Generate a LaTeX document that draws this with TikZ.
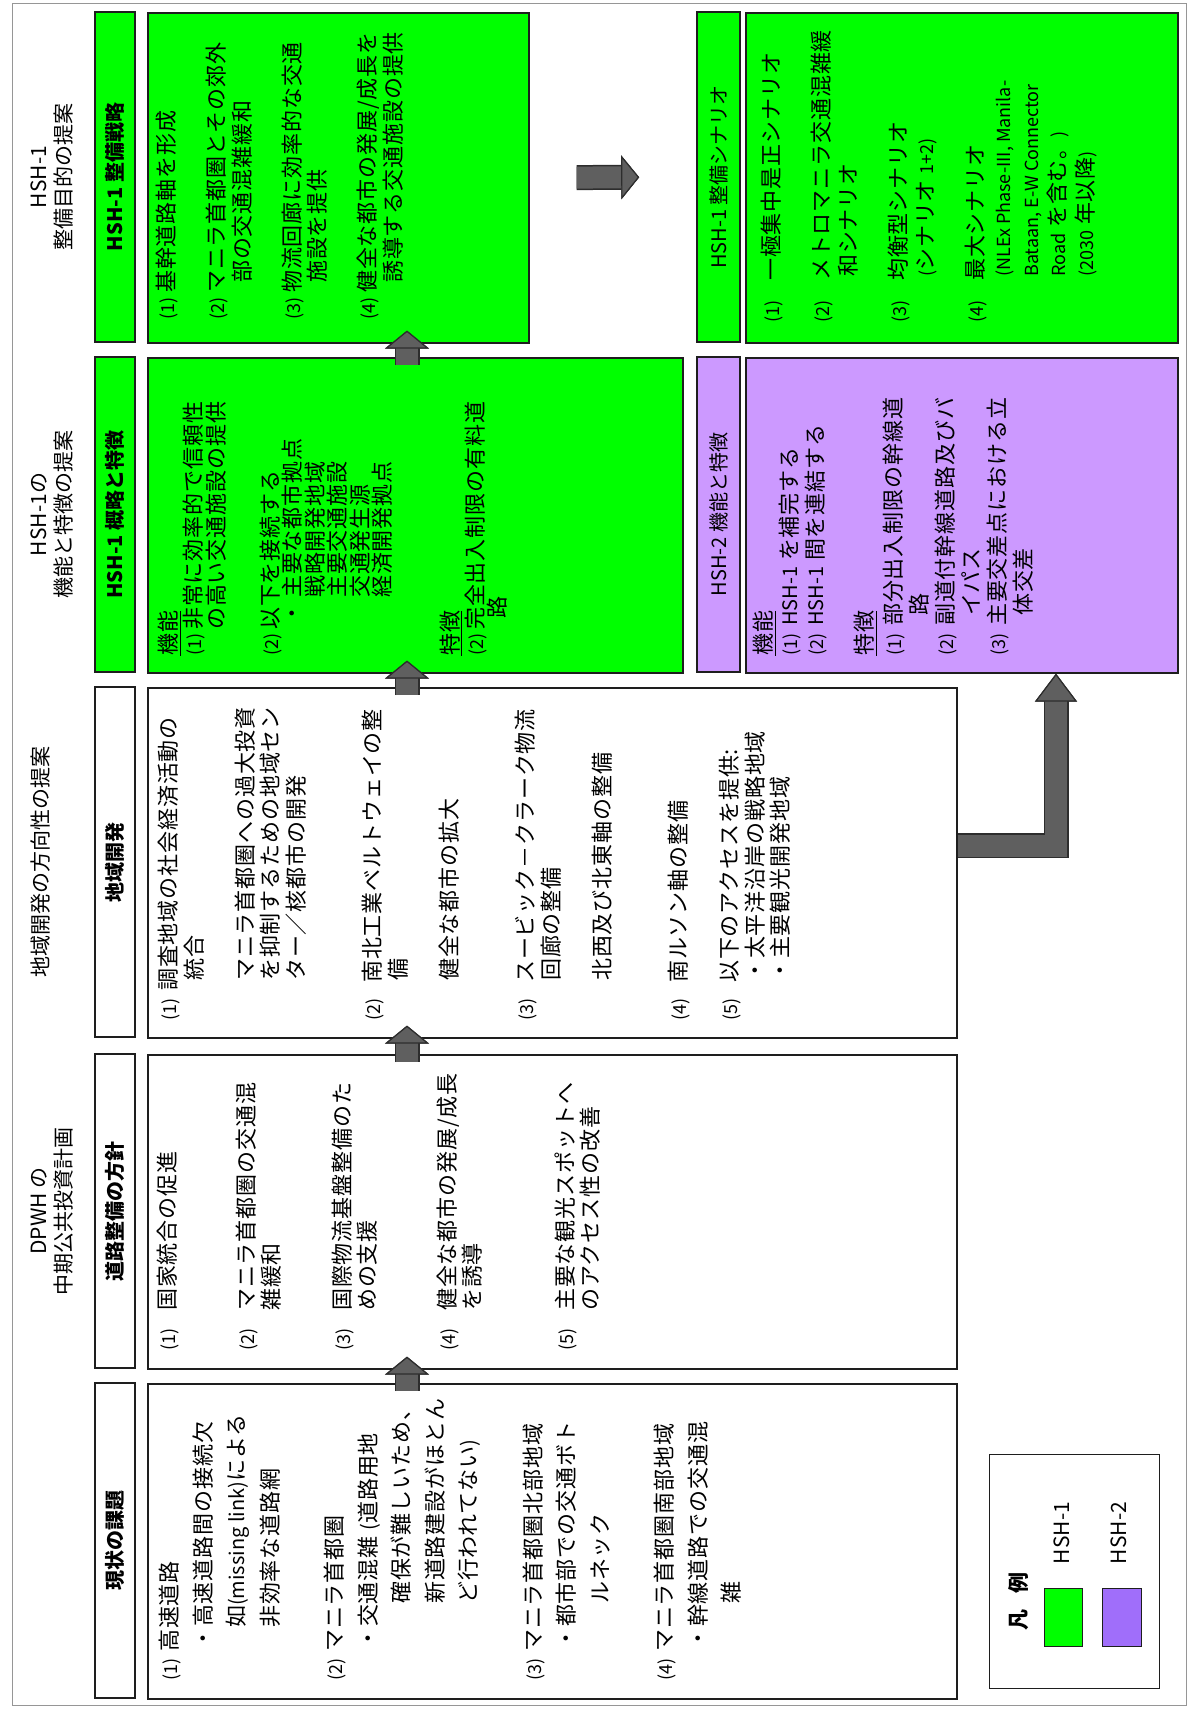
\documentclass[tikz,border=0pt]{standalone}
\usepackage{fontspec}
\setmainfont{Noto Sans CJK JP}
\usetikzlibrary{positioning,calc,arrows.meta}
\definecolor{hshgreen}{RGB}{0,255,0}
\definecolor{hshpurple}{RGB}{204,153,255}
\definecolor{legpurple}{RGB}{160,110,250}
\definecolor{arrgray}{RGB}{95,95,95}
\definecolor{arrdark}{RGB}{45,45,45}
\definecolor{boxline}{RGB}{30,30,30}
\definecolor{framegray}{RGB}{150,150,150}
\newcommand{\sm}[1]{{\fontsize{20}{20}\selectfont\addfontfeatures{LetterSpace=0}#1}}
\newcommand{\lat}[1]{{\fontsize{18}{18}\selectfont\addfontfeatures{LetterSpace=0}#1}}
\newcommand{\lab}[2]{\makebox[#1][l]{\fontsize{18}{18}\selectfont\addfontfeatures{LetterSpace=0}#2}}

\begin{document}
\begin{tikzpicture}[x=1pt,y=-1pt,
	cbox/.style={draw=boxline,line width=1.6pt,anchor=north west,inner sep=0pt},
	hdr/.style={draw=boxline,line width=1.6pt,rotate=90,inner sep=0pt,font=\fontsize{20}{24}\selectfont\bfseries},
	txt/.style={rotate=90,anchor=north west,inner sep=0pt,align=left},
	ttl/.style={rotate=90,anchor=north,inner sep=0pt,align=center,font=\fontsize{21}{25}\selectfont},
	blko/.style={draw=arrdark,line width=25pt,line join=miter,-{Triangle[width=44pt,length=18pt,line width=1.2pt]}},
	blk/.style={draw=arrgray,line width=22pt,line join=miter,-{Triangle[width=44pt,length=18pt,line width=1.2pt,fill=arrgray,color=arrdark]}},
	upgap/.style={shorten <=-8pt,shorten >=-13pt}]
	\useasboundingbox (0,0) rectangle (1189,1711);
	\draw[framegray,line width=1pt] (12,3) rectangle (1186,1705);
	\coordinate (tx) at (31,0);
	\coordinate (ax) at (407,0);
	\coordinate (ex) at (1056,0);

	% header boxes
	\node[hdr,fill=hshgreen,minimum width=330,minimum height=40] (h1) at (115,177) {HSH-1 整備戦略};
	\node[hdr,fill=hshgreen,minimum width=315,minimum height=40] (h2) at (115,514.5) {HSH-1 概略と特徴};
	\node[hdr,fill=white,minimum width=350,minimum height=40] (h3) at (115,862) {地域開発};
	\node[hdr,fill=white,minimum width=314,minimum height=40] (h4) at (115,1211) {道路整備の方針};
	\node[hdr,fill=white,minimum width=315,minimum height=40] (h5) at (115,1540.5) {現状の課題};
	\node[hdr,fill=hshgreen,minimum width=330,minimum height=43,font=\fontsize{20}{24}\selectfont] (h6) at (718.5,177) {HSH-1 整備シナリオ};
	\node[hdr,fill=hshpurple,minimum width=315,minimum height=43,font=\fontsize{20}{24}\selectfont] (h7) at (718.5,514.5) {HSH-2 機能と特徴};

	% titles
	\node[ttl] (t1) at (h1 -| tx) {HSH-1\\整備目的の提案};
	\node[ttl] (t2) at (h2 -| tx) {HSH-1の\\機能と特徴の提案};
	\node[ttl] (t3) at (h3 -| tx) {地域開発の方向性の提案};
	\node[ttl] (t4) at (h4 -| tx) {DPWH の\\中期公共投資計画};

	% content boxes
	\node[cbox,fill=hshgreen,minimum width=381,minimum height=330] (c1) at (147,12) {};
	\node[cbox,fill=hshgreen,minimum width=535,minimum height=315] (c2) at (147,357) {};
	\node[cbox,fill=white,minimum width=809,minimum height=350] (c3) at (147,687) {};
	\node[cbox,fill=white,minimum width=809,minimum height=314] (c4) at (147,1054) {};
	\node[cbox,fill=white,minimum width=809,minimum height=315] (c5) at (147,1383) {};
	\node[cbox,fill=hshgreen,minimum width=432,minimum height=330] (c6) at (745,12) {};
	\node[cbox,fill=hshpurple,minimum width=432,minimum height=315] (c7) at (745,357) {};

	% texts
	\node[txt,font=\fontsize{22}{25.5}\selectfont\addfontfeatures{LetterSpace=4}] (s1) at (156,320) {%
		\lab{27pt}{(1)}基幹道路軸を形成\\[24.5pt]
		\lab{27pt}{(2)}マニラ首都圏とその郊外\\
		\hspace*{37pt}部の交通混雑緩和\\[24.5pt]
		\lab{27pt}{(3)}物流回廊に効率的な交通\\
		\hspace*{37pt}施設を提供\\[24.5pt]
		\lab{27pt}{(4)}健全な都市の発展/成長を\\
		\hspace*{37pt}誘導する交通施設の提供};
	\node[txt,font=\fontsize{22}{22.5}\selectfont\addfontfeatures{LetterSpace=4}] (s2) at (158,656) {%
		\underline{機能}\\[2.5pt]
		\lab{26pt}{(1)}非常に効率的で信頼性\\
		\hspace*{26pt}の高い交通施設の提供\\[31.5pt]
		\lab{26pt}{(2)}以下を接続する\\
		\hspace*{31pt}・\hspace{5pt}主要な都市拠点\\
		\hspace*{58pt}戦略開発地域\\
		\hspace*{58pt}主要交通施設\\
		\hspace*{58pt}交通発生源\\
		\hspace*{58pt}経済開発拠点\\[45pt]
		\underline{特徴}\\[2.5pt]
		\lab{26pt}{(2)}完全出入制限の有料道\\
		\hspace*{37pt}路};
	\node[txt,font=\fontsize{22}{25.5}\selectfont\addfontfeatures{LetterSpace=4}] (s3) at (158,1021) {%
		\lab{30pt}{(1)}調査地域の社会経済活動の\\
		\hspace*{40pt}統合\\[25.5pt]
		\hspace*{40pt}マニラ首都圏への過大投資\\
		\hspace*{40pt}を抑制するための地域セン\\
		\hspace*{40pt}ター／核都市の開発\\[51pt]
		\lab{38pt}{(2)}南北工業ベルトウェイの整\\
		\hspace*{40pt}備\\[25.5pt]
		\hspace*{40pt}健全な都市の拡大\\[51pt]
		\lab{38pt}{(3)}スービック－クラーク物流\\
		\hspace*{40pt}回廊の整備\\[25.5pt]
		\hspace*{40pt}北西及び北東軸の整備\\[51pt]
		\lab{38pt}{(4)}南ルソン軸の整備\\[25.5pt]
		\lab{38pt}{(5)}以下のアクセスを提供:\\
		\hspace*{39pt}・太平洋沿岸の戦略地域\\
		\hspace*{39pt}・主要観光開発地域};
	\node[txt,font=\fontsize{22}{25}\selectfont\addfontfeatures{LetterSpace=4}] (s4) at (157,1351) {%
		\lab{40pt}{(1)}国家統合の促進\\[54pt]
		\lab{40pt}{(2)}マニラ首都圏の交通混\\
		\hspace*{40pt}雑緩和\\[46pt]
		\lab{40pt}{(3)}国際物流基盤整備のた\\
		\hspace*{40pt}めの支援\\[55pt]
		\lab{40pt}{(4)}健全な都市の発展/成長\\
		\hspace*{40pt}を誘導\\[68pt]
		\lab{40pt}{(5)}主要な観光スポットへ\\
		\hspace*{40pt}のアクセス性の改善};
	\node[txt,font=\fontsize{22}{33.5}\selectfont\addfontfeatures{LetterSpace=4}] (s5) at (159,1681) {%
		\lab{29pt}{(1)}高速道路\\
		\hspace*{31pt}・高速道路間の接続欠\\
		\hspace*{53pt}如\sm{(missing link)}による\\
		\hspace*{53pt}非効率な道路網\\[31pt]
		\lab{29pt}{(2)}マニラ首都圏\\
		\hspace*{31pt}・交通混雑 \sm{(}道路用地\\
		\hspace*{77pt}確保が難しいため、\\
		\hspace*{77pt}新道路建設がほとん\\
		\hspace*{77pt}ど行われてない\sm{)}\\[31pt]
		\lab{29pt}{(3)}マニラ首都圏北部地域\\
		\hspace*{31pt}・都市部での交通ボト\\
		\hspace*{77pt}ルネック\\[31pt]
		\lab{29pt}{(4)}マニラ首都圏南部地域\\
		\hspace*{31pt}・幹線道路での交通混\\
		\hspace*{77pt}雑};
	\node[txt,font=\fontsize{22}{27.5}\selectfont\addfontfeatures{LetterSpace=4}] (s6) at (761,323) {%
		\lab{42pt}{(1)}一極集中是正シナリオ\\[22pt]
		\lab{42pt}{(2)}メトロマニラ交通混雑緩\\
		\hspace*{46pt}和シナリオ\\[22pt]
		\lab{42pt}{(3)}均衡型シナリオ\\
		\hspace*{46pt}\lat{(}シナリオ \lat{1+2)}\\[22pt]
		\lab{42pt}{(4)}最大シナリオ\\
		\hspace*{46pt}\lat{(NLEx Phase-III, Manila-}\\
		\hspace*{46pt}\lat{Bataan, E-W Connector}\\
		\hspace*{46pt}\lat{Road} を含む。\lat{)}\\
		\hspace*{46pt}\lat{(2030} 年以降\lat{)}};
	\node[txt,font=\fontsize{22}{26}\selectfont\addfontfeatures{LetterSpace=4}] (s7) at (753,656) {%
		\underline{機能}\\
		\lab{30pt}{(1)}\sm{HSH-1} を補完する\\
		\lab{30pt}{(2)}\sm{HSH-1} 間を連結する\\[23pt]
		\underline{特徴}\\[3pt]
		\lab{30pt}{(1)}部分出入制限の幹線道\\
		\hspace*{40pt}路\\
		\lab{30pt}{(2)}副道付幹線道路及びバ\\
		\hspace*{40pt}イパス\\
		\lab{30pt}{(3)}主要交差点における立\\
		\hspace*{40pt}体交差};

	% arrows
	\foreach \a/\b in {c5/c4,c4/c3,c3/c2,c2/c1} {
		\draw[blko,upgap] (\a.north -| ax) -- (\b.south -| ax);
		\draw[blk,upgap] (\a.north -| ax) -- (\b.south -| ax);
	}
	\draw[blko,shorten <=47pt,shorten >=57pt] (c1.east) -- (h6.north);
	\draw[blk,shorten <=47pt,shorten >=57pt] (c1.east) -- (h6.north);
	\draw[draw=arrdark,line width=25pt,line join=miter,-{Triangle[width=42pt,length=28pt,line width=1.2pt]}] ([yshift=17pt]c3.east) -| (c7.south -| ex);
	\draw[draw=arrgray,line width=22pt,line join=miter,-{Triangle[width=42pt,length=28pt,line width=1.2pt,fill=arrgray,color=arrdark]}] ([yshift=17pt]c3.east) -| (c7.south -| ex);

	% legend
	\node[cbox,fill=white,line width=1.2pt,minimum width=170,minimum height=234] (lg) at (989,1454) {};
	\node[rotate=90,font=\fontsize{21}{21}\selectfont\bfseries] (lgt) at (1019,1601) {凡\hspace{16pt}例};
	\node[cbox,fill=hshgreen,line width=1pt,minimum width=38,minimum height=58] (lg1) at (1044,1588) {};
	\node[rotate=90,font=\fontsize{21}{21}\selectfont] (lg1t) at (1062,1533) {HSH-1};
	\node[cbox,fill=legpurple,line width=1pt,minimum width=39,minimum height=58] (lg2) at (1102,1588) {};
	\node[rotate=90,font=\fontsize{21}{21}\selectfont] (lg2t) at (1119,1533) {HSH-2};
\end{tikzpicture}
\end{document}
